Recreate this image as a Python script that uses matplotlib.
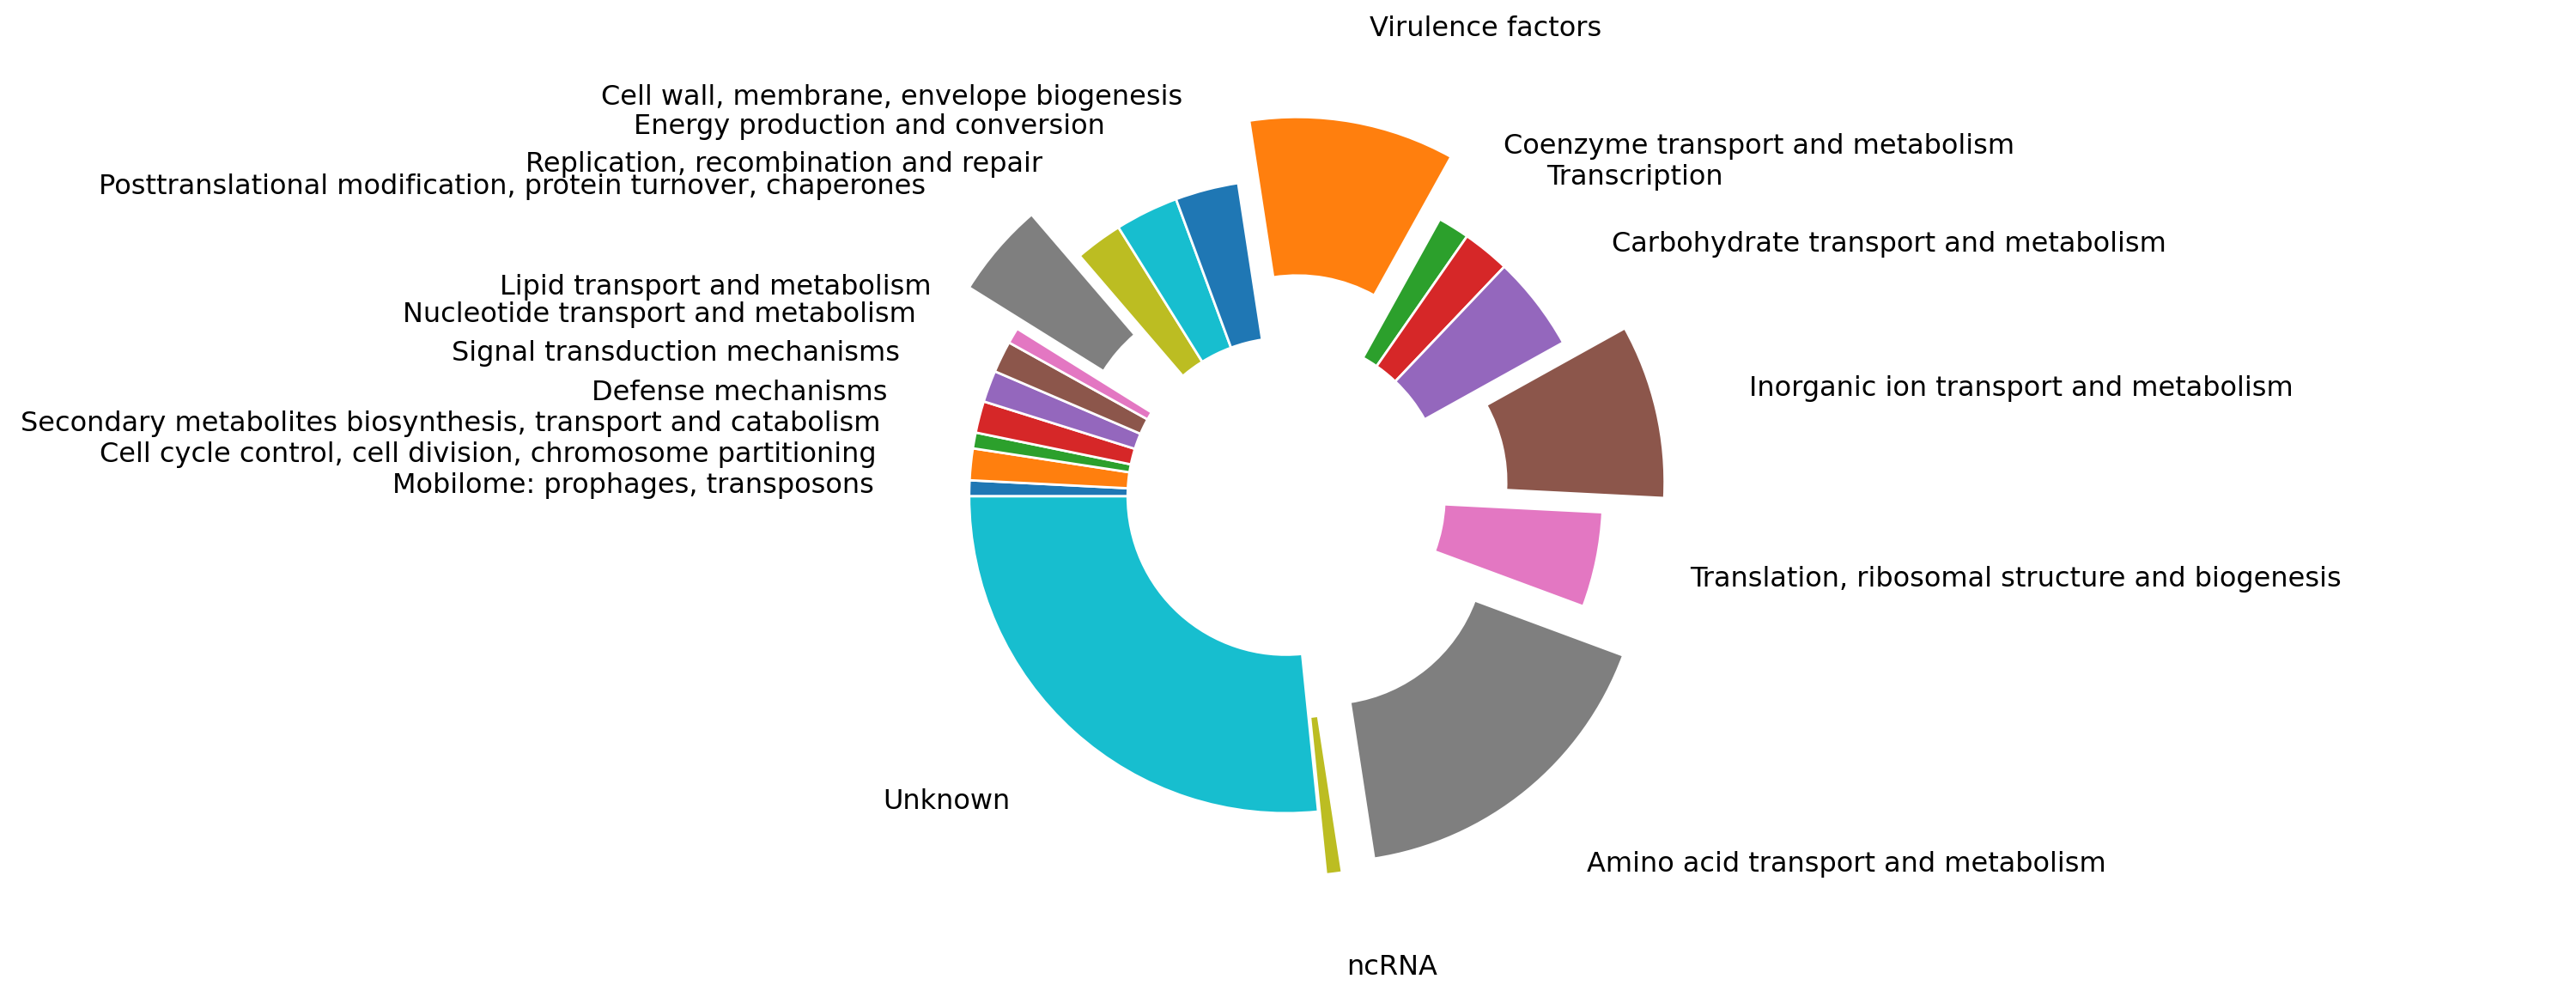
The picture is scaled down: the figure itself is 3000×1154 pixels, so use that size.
import matplotlib
matplotlib.use('Agg')
import matplotlib.pyplot as plt

# COG categories, clockwise from 9 o'clock
categories = [
    'Mobilome: prophages, transposons',
    'Cell cycle control, cell division, chromosome partitioning',
    'Secondary metabolites biosynthesis, transport and catabolism',
    'Defense mechanisms',
    'Signal transduction mechanisms',
    'Nucleotide transport and metabolism',
    'Lipid transport and metabolism',
    'Posttranslational modification, protein turnover, chaperones',
    'Replication, recombination and repair',
    'Energy production and conversion',
    'Cell wall, membrane, envelope biogenesis',
    'Virulence factors',
    'Coenzyme transport and metabolism',
    'Transcription',
    'Carbohydrate transport and metabolism',
    'Inorganic ion transport and metabolism',
    'Translation, ribosomal structure and biogenesis',
    'Amino acid transport and metabolism',
    'ncRNA',
    'Unknown',
]
counts = [1, 2, 1, 2, 2, 2, 1, 6, 3, 4, 4, 13, 2, 3, 6, 11, 6, 21, 1, 33]
highlighted = ['Posttranslational modification, protein turnover, chaperones',
               'Virulence factors',
               'Inorganic ion transport and metabolism',
               'Amino acid transport and metabolism',
               'ncRNA']

explode = [0.2 if c in highlighted else 0 for c in categories]

fig = plt.figure(figsize=(15, 5.77), dpi=200)
ax = fig.add_axes([0.3455, 0.0995, 0.3075, 0.7994])
ax.pie(counts, labels=categories, explode=explode,
       startangle=180, counterclock=False, labeldistance=1.3,
       textprops=dict(fontsize=11.5),
       wedgeprops=dict(width=0.5, edgecolor='white', linewidth=1))
ax.set_xlim(-1.25, 1.25)
ax.set_ylim(-1.25, 1.25)
ax.set_aspect('equal')
ax.axis('off')

fig.savefig('out.png', dpi=200, facecolor='white')
